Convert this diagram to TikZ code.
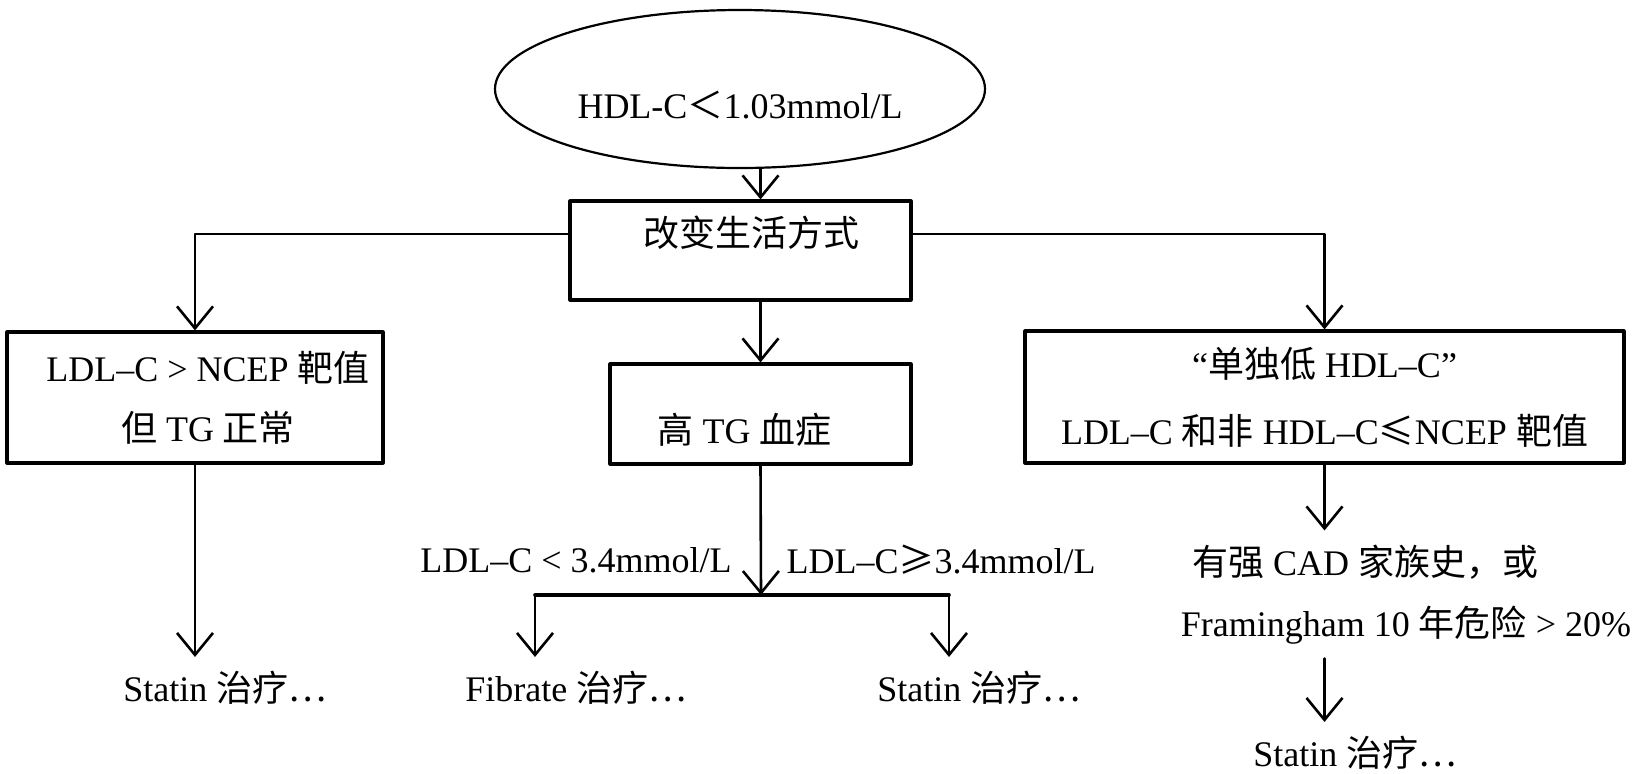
\documentclass[tikz,border=0pt]{standalone}
\usepackage{fontspec}
\setmainfont{Liberation Serif}
\newfontfamily\cjk{Noto Sans CJK SC}
\usetikzlibrary{arrows.meta,shapes.geometric}
\newcommand\nudgetext[3]{\raisebox{#2}[\height][\depth]{\hspace*{#1}#3\hspace*{-#1}}}
\begin{document}
\begin{tikzpicture}[x=0.5pt,y=-0.5pt,line join=round,line cap=round,>={Straight Barb[length=11pt,width=18pt]},font=\fontsize{18}{30}\selectfont,
  box/.style={draw,line width=1.6pt,align=center,inner sep=0pt},
  txt/.style={inner sep=7pt},
  conn/.style={line width=1.3pt}]
\useasboundingbox (0,0) rectangle (1638,773);
\node[ellipse,draw,line width=1.1pt,minimum width=245pt,minimum height=79pt] (hdl) at (740,89) {\nudgetext{0pt}{-8pt}{HDL-C{\cjk ＜}1.03mmol/L}};
\node[box,minimum width=170.5pt,minimum height=49.5pt] (life) at (740.5,250.5) {\nudgetext{5.5pt}{8.75pt}{\cjk 改变生活方式}};
\node[box,minimum width=188pt,minimum height=65.5pt] (ldl) at (195,397.5) {\nudgetext{6.5pt}{0pt}{LDL–C > NCEP {\cjk 靶值}}\\\nudgetext{6.5pt}{0pt}{{\cjk 但} TG {\cjk 正常}}};
\node[box,minimum width=150.5pt,minimum height=50pt] (tg) at (760.5,414) {\nudgetext{-8pt}{-8pt}{{\cjk 高} TG {\cjk 血症}}};
\node[box,minimum width=299.5pt,minimum height=66pt] (iso) at (1324.5,397) {“{\cjk 单独低} HDL–C”\\[3.5pt]LDL–C {\cjk 和非} HDL–C{\cjk ≤}NCEP {\cjk 靶值}};
\node[inner sep=0pt] (lo) at (576,560) {LDL–C < 3.4mmol/L};
\node[inner sep=0pt] (hi) at (941,560) {LDL–C{\cjk ≥}3.4mmol/L};
\node[txt] (stL) at (225,688) {Statin {\cjk 治疗…}};
\node[txt] (fib) at (576,688) {Fibrate {\cjk 治疗…}};
\node[txt] (stM) at (979,688) {Statin {\cjk 治疗…}};
\node[txt] (fam) at (1365,562) {{\cjk 有强} CAD {\cjk 家族史，或}};
\node[txt] (risk) at (1406,625) {Framingham 10 {\cjk 年危险} > 20\%};
\node[txt] (stR) at (1355,753) {Statin {\cjk 治疗…}};
\coordinate (split) at (761,595);
\coordinate (fibtop) at (535,595);
\coordinate (sttop) at (949,595);
\draw[conn,->] (hdl.south -| tg.north) -- (life.north -| tg.north);
\draw[conn,->] ([yshift=8.25pt]life.west) -| (ldl.north);
\draw[conn,->] ([yshift=8.25pt]life.east) -| (iso.north);
\draw[conn,->] (life.south -| tg.north) -- (tg.north);
\draw[conn,->] (tg.south) -- (split);
\draw[line width=1.8pt] (fibtop) -- (sttop);
\foreach \c/\t in {fibtop/fib,sttop/stM}{\draw[conn,->] (\c) -- (\c |- \t.north);}
\draw[conn,->] (ldl.south) -- (ldl.south |- stL.north);
\draw[conn,->] (iso.south) -- (iso.south |- fam.north);
\draw[conn,->] (risk.south -| iso.south) -- (iso.south |- stR.north);
\end{tikzpicture}
\end{document}
